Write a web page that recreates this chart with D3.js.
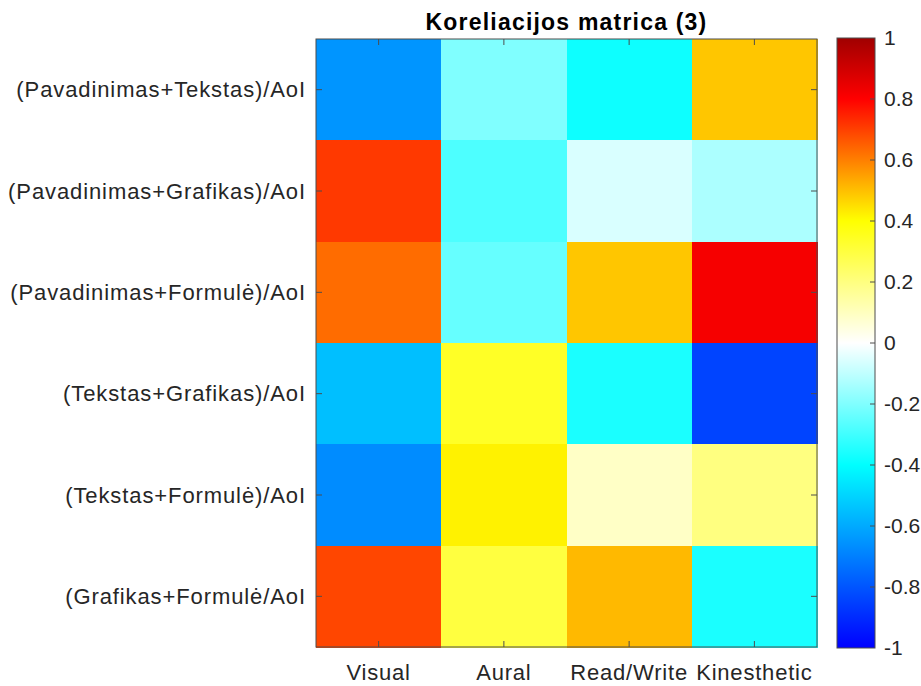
<!DOCTYPE html>
<html>
<head>
<meta charset="utf-8">
<script src="https://cdn.jsdelivr.net/npm/d3@7"></script>
<style>
  html, body { margin: 0; padding: 0; background: #fff; }
  svg { display: block; font-family: "Liberation Sans", Arial, Helvetica, sans-serif; }
</style>
</head>
<body>
<svg id="chart" width="921" height="686"></svg>
<script>
// Learning-style columns
const styles = ["Visual", "Aural", "Read/Write", "Kinesthetic"];

// Feature-ratio rows
const features = [
  "(Pavadinimas+Tekstas)/AoI",
  "(Pavadinimas+Grafikas)/AoI",
  "(Pavadinimas+Formulė)/AoI",
  "(Tekstas+Grafikas)/AoI",
  "(Tekstas+Formulė)/AoI",
  "(Grafikas+Formulė/AoI"
];

// Correlation coefficients, one row per feature
const rowPT = [-0.65, -0.20, -0.38, 0.49];
const rowPG = [0.71, -0.28, -0.06, -0.13];
const rowPF = [0.63, -0.24, 0.49, 0.82];
const rowTG = [-0.55, 0.34, -0.36, -0.84];
const rowTF = [-0.67, 0.42, 0.09, 0.20];
const rowGF = [0.69, 0.30, 0.51, -0.36];
const values = [rowPT, rowPG, rowPF, rowTG, rowTF, rowGF];

// Colour bar ticks
const cbTicks = [-1, -0.8, -0.6, -0.4, -0.2, 0, 0.2, 0.4, 0.6, 0.8, 1];

const svg = d3.select("#chart");
const textColor = "#262626";
const axisColor = "#4d4d4d";

const plot = { left: 316, right: 817, top: 39, bottom: 647 };

const x = d3.scaleBand().domain(styles).range([plot.left, plot.right]);
const y = d3.scaleBand().domain(features).range([plot.top, plot.bottom]);

// Diverging blue-cyan-white-yellow-red colour map
const color = d3.scaleLinear()
  .domain([-1, -0.4, 0, 0.4, 0.8, 1])
  .range(["#0000ff", "#00ffff", "#ffffff", "#ffff00", "#ff0000", "#a00000"])
  .interpolate(d3.interpolateRgb)
  .clamp(true);

const cells = [];
values.forEach((row, i) => row.forEach((v, j) => cells.push({ r: features[i], c: styles[j], v })));

svg.append("g").selectAll("rect")
  .data(cells)
  .join("rect")
  .attr("x", d => x(d.c))
  .attr("y", d => y(d.r))
  .attr("width", x.bandwidth() + 0.5)
  .attr("height", y.bandwidth() + 0.5)
  .attr("fill", d => color(d.v))
  .attr("shape-rendering", "crispEdges");

// Axes box
svg.append("rect")
  .attr("x", plot.left).attr("y", plot.top)
  .attr("width", plot.right - plot.left).attr("height", plot.bottom - plot.top)
  .attr("fill", "none").attr("stroke", axisColor).attr("stroke-width", 1);

const tickLen = 6;
const ticks = svg.append("g").attr("stroke", axisColor).attr("stroke-width", 1);
styles.forEach(s => {
  const cx = x(s) + x.bandwidth() / 2;
  ticks.append("line").attr("x1", cx).attr("x2", cx).attr("y1", plot.top).attr("y2", plot.top + tickLen);
  ticks.append("line").attr("x1", cx).attr("x2", cx).attr("y1", plot.bottom).attr("y2", plot.bottom - tickLen);
});
features.forEach(f => {
  const cy = y(f) + y.bandwidth() / 2;
  ticks.append("line").attr("y1", cy).attr("y2", cy).attr("x1", plot.left).attr("x2", plot.left + tickLen);
  ticks.append("line").attr("y1", cy).attr("y2", cy).attr("x1", plot.right).attr("x2", plot.right - tickLen);
});

// Tick labels
svg.append("g").selectAll("text")
  .data(styles)
  .join("text")
  .attr("x", d => x(d) + x.bandwidth() / 2)
  .attr("y", 680)
  .attr("text-anchor", "middle")
  .attr("font-size", 22)
  .attr("letter-spacing", 0.8)
  .attr("fill", textColor)
  .text(d => d);

svg.append("g").selectAll("text")
  .data(features)
  .join("text")
  .attr("x", 306)
  .attr("y", d => y(d) + y.bandwidth() / 2)
  .attr("dy", "0.35em")
  .attr("text-anchor", "end")
  .attr("font-size", 22)
  .attr("letter-spacing", 0.9)
  .attr("fill", textColor)
  .text(d => d);

// Title
svg.append("text")
  .attr("x", (plot.left + plot.right) / 2)
  .attr("y", 30)
  .attr("text-anchor", "middle")
  .attr("font-size", 23)
  .attr("font-weight", "bold")
  .attr("letter-spacing", 1.2)
  .attr("fill", "#000")
  .text("Koreliacijos matrica (3)");

// Colour bar
const cb = { left: 837, right: 875, top: 38, bottom: 648 };
const cbScale = d3.scaleLinear().domain([-1, 1]).range([cb.bottom, cb.top]);

const grad = svg.append("defs").append("linearGradient")
  .attr("id", "cbGrad")
  .attr("x1", 0).attr("y1", 1).attr("x2", 0).attr("y2", 0);
d3.range(0, 1.0001, 0.02).forEach(t => {
  grad.append("stop")
    .attr("offset", t)
    .attr("stop-color", color(-1 + 2 * t));
});

svg.append("rect")
  .attr("x", cb.left).attr("y", cb.top)
  .attr("width", cb.right - cb.left).attr("height", cb.bottom - cb.top)
  .attr("fill", "url(#cbGrad)")
  .attr("stroke", axisColor).attr("stroke-width", 1);

const cbAxis = svg.append("g");
cbAxis.selectAll("line")
  .data(cbTicks.slice(1, -1))
  .join("line")
  .attr("x1", cb.right).attr("x2", cb.right - 5)
  .attr("y1", d => cbScale(d)).attr("y2", d => cbScale(d))
  .attr("stroke", axisColor).attr("stroke-width", 1);

cbAxis.selectAll("text")
  .data(cbTicks)
  .join("text")
  .attr("x", 884)
  .attr("y", d => cbScale(d))
  .attr("dy", "0.35em")
  .attr("font-size", 21)
  .attr("fill", textColor)
  .text(d => d3.format("")(d).replace("−", "-"));
</script>
</body>
</html>
